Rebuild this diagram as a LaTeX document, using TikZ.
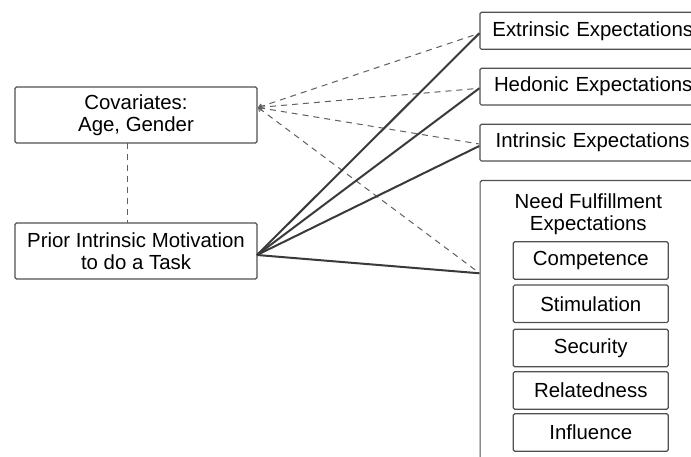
\documentclass[tikz,border=0pt]{standalone}
\usepackage{fontspec}
\setmainfont{Liberation Sans}
\usetikzlibrary{arrows.meta,calc}
\definecolor{boxline}{HTML}{505050}
\definecolor{solidline}{HTML}{3A3A3A}
\definecolor{dashline}{HTML}{606060}
\tikzset{
  bx/.style={draw=boxline, line width=1.2pt, rounded corners=1.5pt, fill=white,
    inner sep=0pt, align=center, font=\fontsize{20.4}{22}\selectfont},
  rbx/.style={bx, anchor=west, minimum width=250pt, text width=225pt, align=left},
  solidc/.style={draw=solidline, line width=2pt},
  dashc/.style={draw=dashline, line width=1pt, dash pattern=on 6pt off 5pt,
    {Straight Barb[length=3pt,width=5pt,line width=0.9pt]}-},
}
\begin{document}
\begin{tikzpicture}[x=1pt,y=-1pt]
\useasboundingbox (0,0) rectangle (691,457);
\clip (0,0) rectangle (691,457);
\fill[white] (0,0) rectangle (691,457);
% left boxes
\node[bx, minimum width=242pt, minimum height=56pt] (cov) at (136,115) {Covariates:\\Age, Gender};
\node[bx, minimum width=242pt, minimum height=56pt] (prior) at (136,251) {Prior Intrinsic Motivation\\to do a Task};
% right boxes
\node[rbx, minimum height=37pt] (ext) at (479.3,30.8) {Extrinsic Expectations};
\node[rbx, minimum height=36.7pt] (hed) at (479.3,86.7) {\hspace*{1.6pt}Hedonic Expectations};
\node[rbx, minimum height=36.7pt] (intr) at (479.3,142.7) {\hspace*{3.3pt}Intrinsic Expectations};
\node[bx, anchor=north west, minimum width=226pt, minimum height=300pt] (need) at (479.5,180) {};
\node[align=center, inner sep=0pt, font=\fontsize{20.4}{22.5}\selectfont] (needt) at (588.3,214) {Need Fulfillment\\Expectations};
\foreach \nm/\txt/\yy in {comp/Competence/260.5, stim/Stimulation/303.8, sec/Security/348, rel/Relatedness/390.5, infl/Influence/432.5}{
  \node[bx, minimum width=155pt, minimum height=37.5pt] (\nm) at (590.8,\yy) {\txt};
}
% connector points
\coordinate (covp) at (258,107.5);
\coordinate (priorp) at (257,255);
\coordinate (extp) at (479.3,33.3);
\coordinate (hedp) at (479.3,88.3);
\coordinate (intp) at (479.3,144);
\coordinate (intsp) at (479.3,146);
\coordinate (needd) at (476,270.5);
\coordinate (needs) at (479.5,273.3);
\coordinate (covb) at (127.7,143);
\coordinate (priort) at (127.7,223);
% connectors
\draw[draw=dashline, line width=1pt, dash pattern=on 6pt off 5pt] (covb) -- (priort);
\draw[dashc] (covp) -- (extp);
\draw[dashc] (covp) -- (hedp);
\draw[dashc] (covp) -- (intp);
\draw[dashc] (covp) -- (needd);
\draw[solidc] (priorp) -- (extp);
\draw[solidc] (priorp) -- (hedp);
\draw[solidc] (priorp) -- (intsp);
\draw[solidc] (priorp) -- (needs);
\end{tikzpicture}
\end{document}
